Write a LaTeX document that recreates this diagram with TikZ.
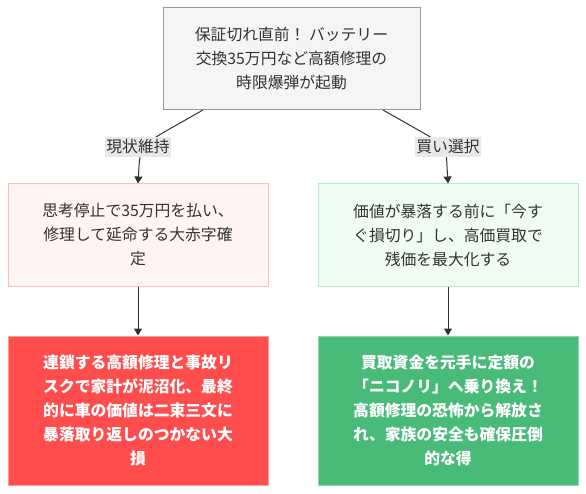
\documentclass[tikz,border=0pt]{standalone}
\usepackage{fontspec}
\newfontfamily\jp{Noto Sans CJK JP}
\usetikzlibrary{arrows.meta}
\definecolor{topfill}{HTML}{F5F5F5}
\definecolor{topdraw}{HTML}{999999}
\definecolor{pinkfill}{HTML}{FFF3F3}
\definecolor{pinkdraw}{HTML}{FFBDBD}
\definecolor{mintfill}{HTML}{EEFCF1}
\definecolor{mintdraw}{HTML}{B5EBC4}
\definecolor{redfill}{HTML}{FF4D4D}
\definecolor{reddraw}{HTML}{FF9C9C}
\definecolor{greenfill}{HTML}{48BB78}
\definecolor{greendraw}{HTML}{8FD8AB}
\definecolor{lblfill}{HTML}{E8E8E8}
\definecolor{txt}{HTML}{333333}
\definecolor{edge}{HTML}{333333}
\tikzset{
  box/.style={draw, line width=1pt, minimum width=260pt, align=center, font=\jp\fontsize{15.8}{24}\selectfont, text=txt, inner sep=0pt},
  lbl/.style={fill=lblfill, font=\jp\fontsize{15.8}{18}\selectfont, text=txt, inner xsep=1pt, inner ysep=3pt},
  conn/.style={draw=edge, line width=1pt, -{Triangle[length=7pt,width=8pt]}},
}
\begin{document}
\begin{tikzpicture}[x=1pt,y=-1pt]
\useasboundingbox (0,0) rectangle (586,494);
\node[box, fill=topfill, draw=topdraw, minimum width=257pt, minimum height=102pt] (top) at (291.5,59) {保証切れ直前！ バッテリー\\交換35万円など高額修理の\\時限爆弾が起動};
\node[box, fill=pinkfill, draw=pinkdraw, minimum height=102pt] (l1) at (138,235) {思考停止で35万円を払い、\\修理して延命する大赤字確\\定};
\node[box, fill=mintfill, draw=mintdraw, minimum height=102pt] (r1) at (448,235) {価値が暴落する前に「今す\\ぐ損切り」し、高価買取で\\残価を最大化する};
\node[box, fill=redfill, draw=reddraw, minimum height=149pt, text=white, font=\jp\bfseries\fontsize{15.8}{24}\selectfont] (l2) at (138,410.5) {連鎖する高額修理と事故リ\\スクで家計が泥沼化、最終\\的に車の価値は二束三文に\\暴落取り返しのつかない大\\損};
\node[box, fill=greenfill, draw=greendraw, minimum height=149pt, text=white, font=\jp\bfseries\fontsize{15.8}{24}\selectfont] (r2) at (448,410.5) {買取資金を元手に定額の\\「ニコノリ」へ乗り換え！\\高額修理の恐怖から解放さ\\れ、家族の安全も確保圧倒\\的な得};
\coordinate (ls) at (203,110);
\coordinate (rs) at (383,110);
\draw[conn] (ls) -- (166,131) .. controls (141,146) .. (139,166) -- (l1.north);
\draw[conn] (rs) -- (420,131) .. controls (446,146) .. (447,166) -- (r1.north);
\node[lbl] (la) at (138,147) {現状維持};
\node[lbl] (ra) at (448,147) {買い選択};
\draw[conn] (l1) -- (l2);
\draw[conn] (r1) -- (r2);
\end{tikzpicture}
\end{document}
